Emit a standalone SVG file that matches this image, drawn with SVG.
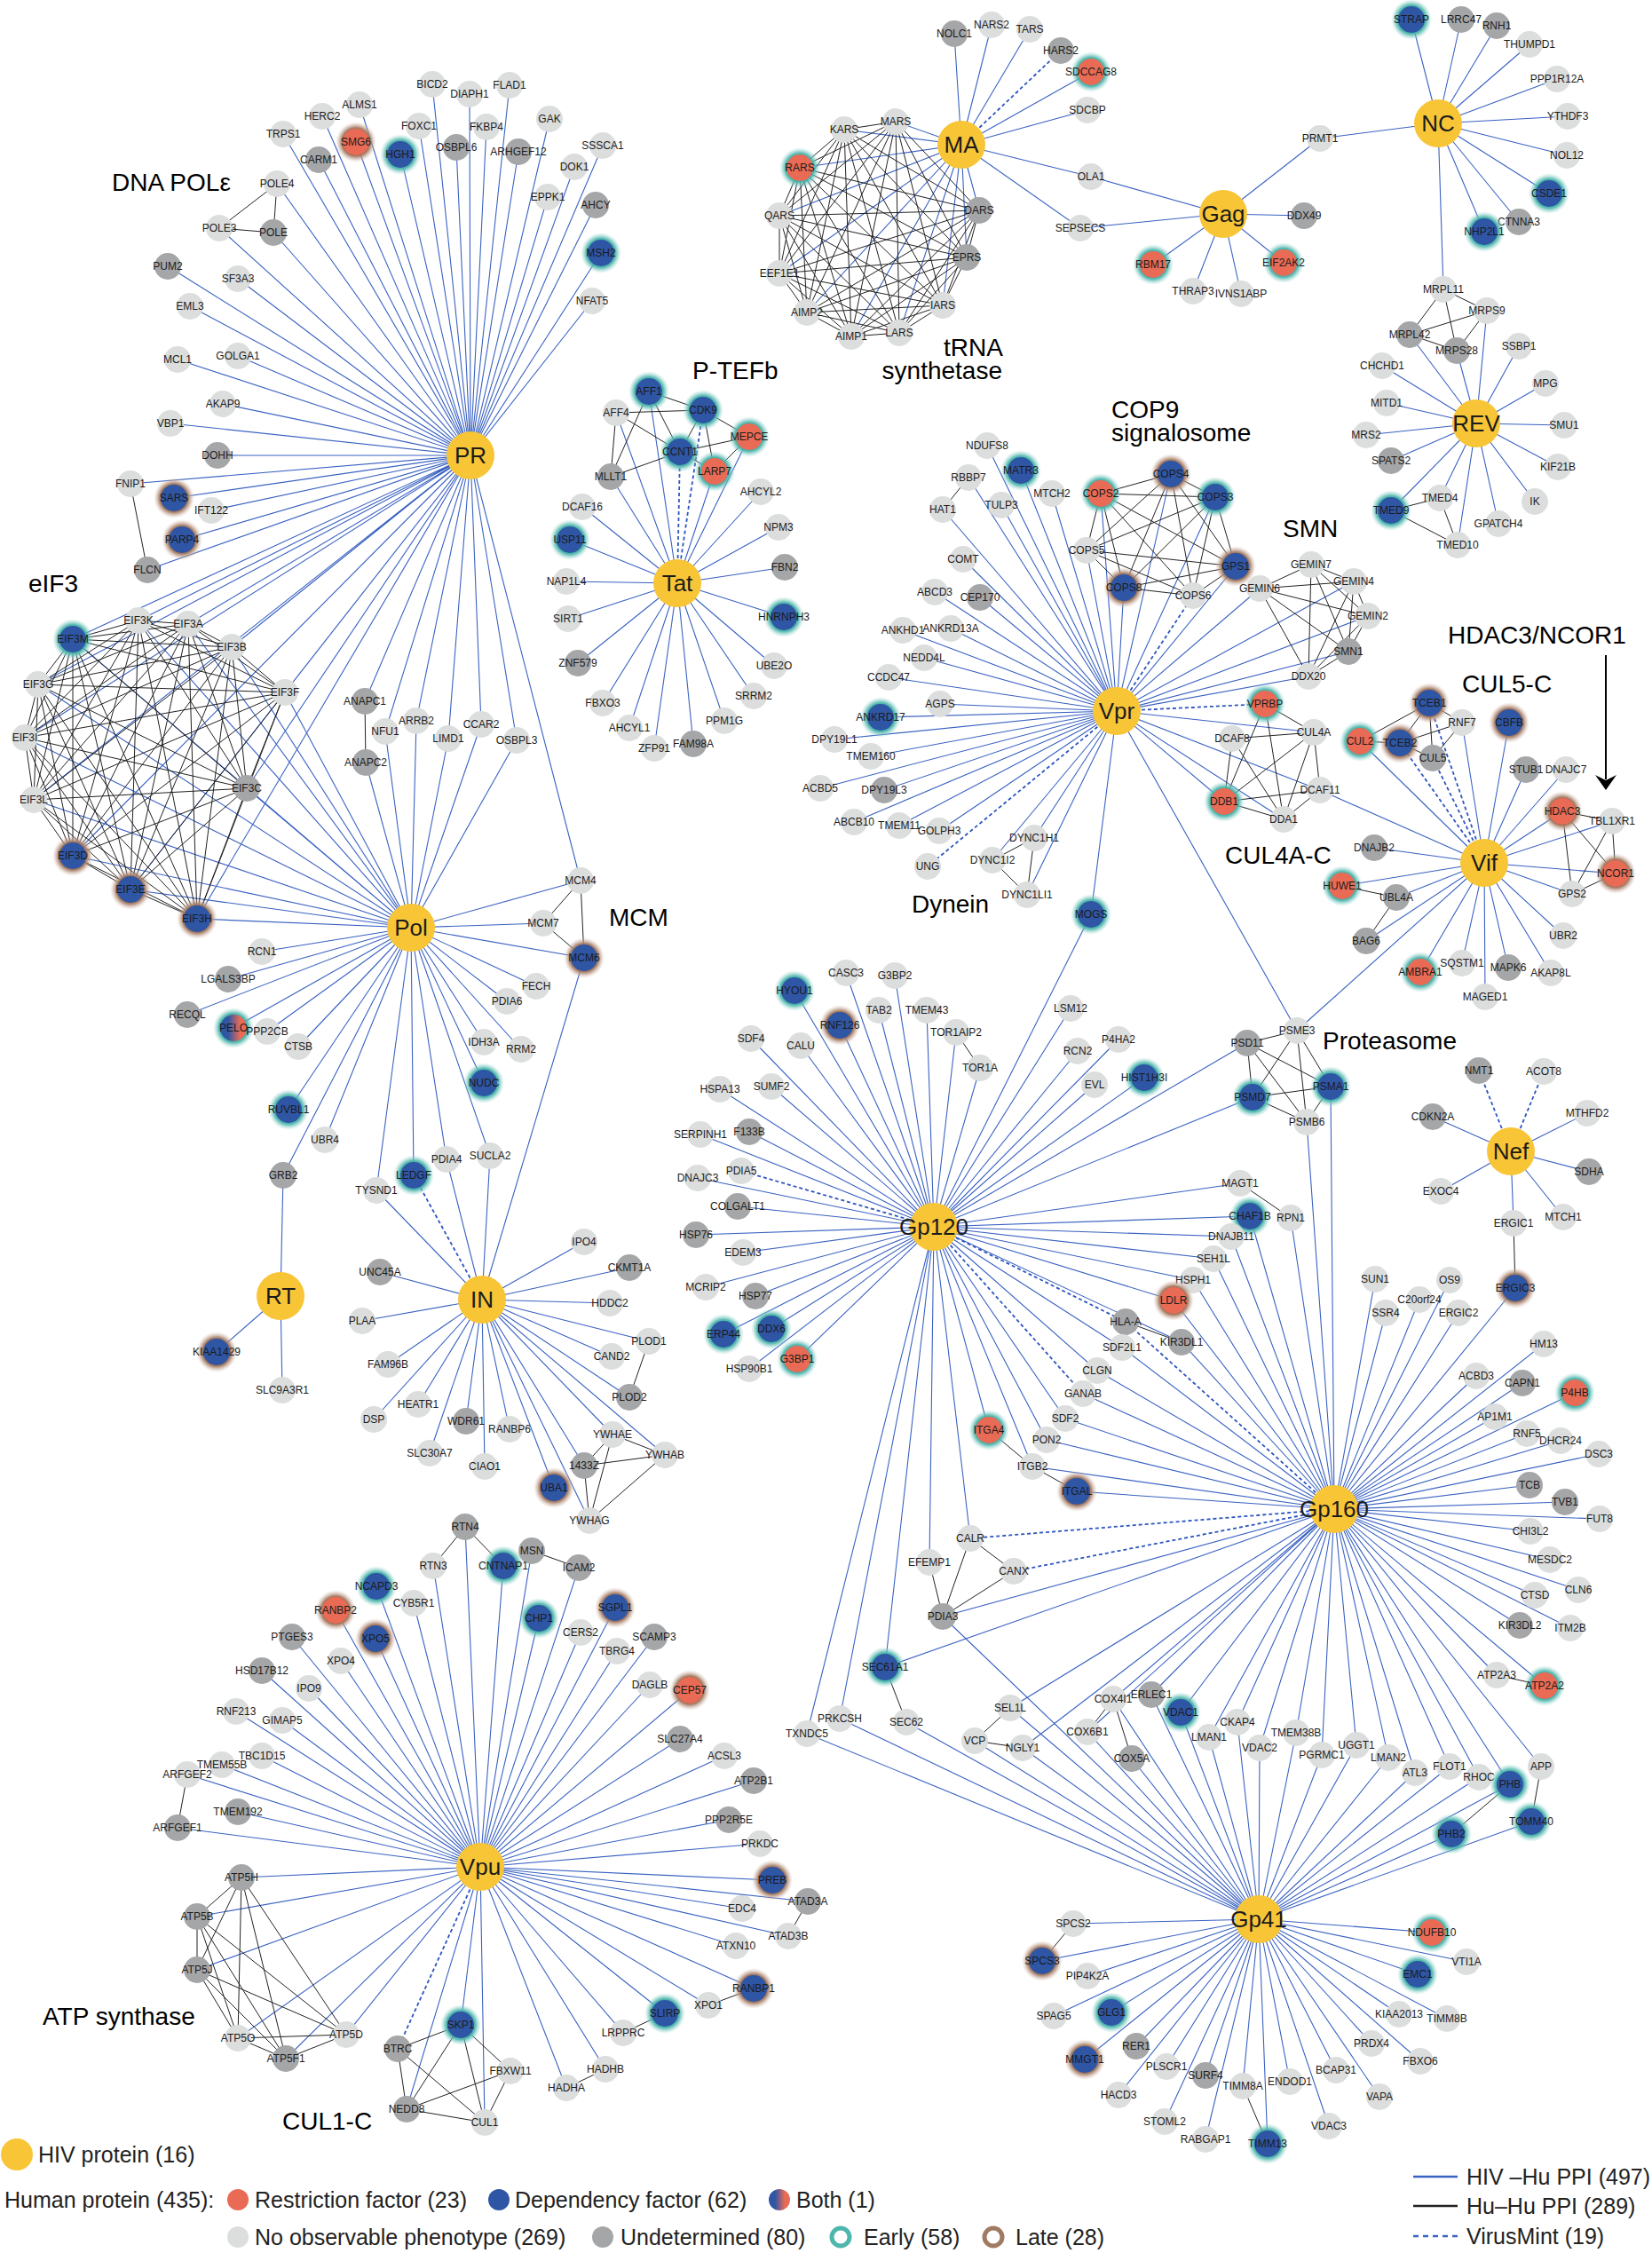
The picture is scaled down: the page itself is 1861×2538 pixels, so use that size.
<svg xmlns="http://www.w3.org/2000/svg" width="1861" height="2538" viewBox="0 0 1861 2538">
<defs>
<radialGradient id="ge"><stop offset="0.6" stop-color="#2ea89f"/><stop offset="0.72" stop-color="#4db5ac" stop-opacity="0.9"/><stop offset="1" stop-color="#a8dcd7" stop-opacity="0"/></radialGradient>
<radialGradient id="gl"><stop offset="0.6" stop-color="#8a5a3a"/><stop offset="0.72" stop-color="#a8806a" stop-opacity="0.9"/><stop offset="1" stop-color="#dcc8bc" stop-opacity="0"/></radialGradient>
<linearGradient id="gb"><stop offset="0.3" stop-color="#2f56a5"/><stop offset="0.75" stop-color="#ea6b55"/></linearGradient>
</defs>
<style>
text{font-family:"Liberation Sans",Arial,sans-serif;font-size:12px;text-anchor:middle;fill:#1b1b1b}
.n{fill:#dcdddd}.u{fill:#a5a6a8}.r{fill:#ea6b55}.d{fill:#2f56a5}.b{fill:url(#gb)}.h{fill:#f8c537}
.E{fill:url(#ge)}.L{fill:url(#gl)}
text.hv{font-size:26px}
text.grp{font-size:28px;text-anchor:start;fill:#000}
text.lg{font-size:25px;text-anchor:start;fill:#222}
.eb{stroke:#3a62c2;stroke-width:1.1;fill:none}
.ek{stroke:#222;stroke-width:1;fill:none}
.ev{stroke:#2d55c0;stroke-width:1.8;stroke-dasharray:4 3;fill:none}
</style>
<rect width="1861" height="2538" fill="#fff"/>
<g id="connectors">
<path id="e-PR" class="eb" d="M530 513L487 95M530 513L529 106M530 513L574 96M530 513L405 118M530 513L363 131M530 513L619 134M530 513L319 151M530 513L401 160M530 513L472 142M530 513L548 143M530 513L451 174M530 513L514 166M530 513L584 171M530 513L359 180M530 513L312 207M530 513L617 222M530 513L308 262M530 513L247 257M530 513L189 300M530 513L268 314M530 513L214 345M530 513L200 405M530 513L268 401M530 513L251 455M530 513L192 477M530 513L245 513M530 513L147 545M530 513L196 561M530 513L238 575M530 513L205 608M530 513L166 642M530 513L679 164M530 513L647 188M530 513L671 231M530 513L677 285M530 513L667 339M530 513L156 699M530 513L212 703M530 513L82 720M530 513L261 729M530 513L43 771M530 513L321 780M530 513L28 831M530 513L278 888M530 513L38 901M530 513L82 964M530 513L147 1002M530 513L222 1035M530 513L411 790M530 513L434 824M530 513L469 812M530 513L505 832M530 513L542 816M530 513L582 834M530 513L654 992"/>
<path id="e-Pol" class="eb" d="M463 1045L156 699M463 1045L212 703M463 1045L82 720M463 1045L261 729M463 1045L43 771M463 1045L321 780M463 1045L28 831M463 1045L278 888M463 1045L38 901M463 1045L82 964M463 1045L147 1002M463 1045L222 1035M463 1045L412 859M463 1045L434 824M463 1045L469 812M463 1045L505 832M463 1045L542 816M463 1045L582 834M463 1045L654 992M463 1045L612 1040M463 1045L658 1079M463 1045L295 1072M463 1045L257 1103M463 1045L211 1143M463 1045L263 1158M463 1045L301 1162M463 1045L336 1179M463 1045L604 1111M463 1045L571 1128M463 1045L545 1174M463 1045L587 1182M463 1045L545 1220M463 1045L325 1250M463 1045L366 1284M463 1045L319 1324M463 1045L466 1324M463 1045L503 1306M463 1045L552 1302M463 1045L424 1341"/>
<path id="e-IN" class="eb" d="M543 1464L424 1341M543 1464L503 1306M543 1464L552 1302M543 1464L658 1079M543 1464L428 1433M543 1464L408 1488M543 1464L437 1537M543 1464L421 1599M543 1464L471 1582M543 1464L484 1637M543 1464L525 1601M543 1464L546 1652M543 1464L574 1610M543 1464L624 1676M543 1464L658 1399M543 1464L709 1428M543 1464L687 1468M543 1464L731 1511M543 1464L689 1528M543 1464L709 1574M543 1464L690 1616M543 1464L749 1639M543 1464L658 1651M543 1464L664 1713"/>
<path id="e-RT" class="eb" d="M316 1460L319 1324M316 1460L244 1523M316 1460L318 1566"/>
<path id="e-Tat" class="eb" d="M763 657L731 441M763 657L694 465M763 657L844 492M763 657L805 531M763 657L688 537M763 657L857 554M763 657L656 571M763 657L877 594M763 657L642 608M763 657L884 639M763 657L638 655M763 657L640 697M763 657L883 695M763 657L651 747M763 657L872 750M763 657L679 792M763 657L849 784M763 657L709 820M763 657L816 812M763 657L737 843M763 657L781 838"/>
<path id="e-MA" class="eb" d="M1083 163L1075 38M1083 163L1117 28M1083 163L1160 33M1083 163L1229 81M1083 163L1225 124M1083 163L1229 199M1083 163L1217 257M1083 163L1009 137M1083 163L951 146M1083 163L901 189M1083 163L878 243M1083 163L1103 237M1083 163L1089 290M1083 163L878 308M1083 163L1062 344M1083 163L909 352M1083 163L959 379M1083 163L1013 375"/>
<path id="e-Gag" class="eb" d="M1378 241L1487 156M1378 241L1229 199M1378 241L1217 257M1378 241L1469 243M1378 241L1299 298M1378 241L1344 328M1378 241L1398 331M1378 241L1446 296"/>
<path id="e-NC" class="eb" d="M1620 139L1590 22M1620 139L1646 22M1620 139L1686 29M1620 139L1723 50M1620 139L1754 89M1620 139L1766 131M1620 139L1765 175M1620 139L1745 218M1620 139L1711 250M1620 139L1672 261M1620 139L1487 156M1620 139L1626 326"/>
<path id="e-REV" class="eb" d="M1663 477L1588 377M1663 477L1641 395M1663 477L1675 350M1663 477L1711 390M1663 477L1557 412M1663 477L1741 432M1663 477L1562 454M1663 477L1762 479M1663 477L1539 490M1663 477L1567 519M1663 477L1755 526M1663 477L1729 565M1663 477L1567 575M1663 477L1622 561M1663 477L1688 590M1663 477L1642 614"/>
<path id="e-Vpr" class="eb" d="M1258 801L1112 502M1258 801L1091 538M1258 801L1150 530M1258 801L1062 574M1258 801L1128 569M1258 801L1185 556M1258 801L1240 556M1258 801L1319 534M1258 801L1369 560M1258 801L1224 620M1258 801L1266 662M1258 801L1392 638M1258 801L1419 663M1258 801L1525 655M1258 801L1541 694M1258 801L1519 734M1258 801L1474 762M1258 801L1085 630M1258 801L1053 667M1258 801L1104 673M1258 801L1017 710M1258 801L1071 708M1258 801L1041 741M1258 801L1001 763M1258 801L1059 793M1258 801L992 808M1258 801L940 833M1258 801L981 852M1258 801L924 888M1258 801L996 890M1258 801L962 926M1258 801L1013 930M1258 801L1058 936M1258 801L1165 944M1258 801L1118 969M1258 801L1157 1008M1258 801L1229 1030M1258 801L1480 825M1258 801L1379 903M1258 801L1446 923M1258 801L1487 890M1258 801L1461 1161"/>
<path id="e-Vif" class="eb" d="M1672 972L1532 835M1672 972L1647 814M1672 972L1700 814M1672 972L1719 867M1672 972L1764 867M1672 972L1760 914M1672 972L1816 925M1672 972L1820 984M1672 972L1771 1007M1672 972L1761 1054M1672 972L1747 1096M1672 972L1699 1090M1672 972L1673 1123M1672 972L1647 1085M1672 972L1600 1095M1672 972L1539 1060M1672 972L1573 1011M1672 972L1512 998M1672 972L1548 955M1672 972L1487 890M1672 972L1461 1161"/>
<path id="e-Nef" class="eb" d="M1702 1297L1788 1254M1702 1297L1790 1320M1702 1297L1761 1371M1702 1297L1705 1378M1702 1297L1623 1342M1702 1297L1614 1258"/>
<path id="e-Gp120" class="eb" d="M1052 1382L895 1116M1052 1382L953 1096M1052 1382L1008 1099M1052 1382L990 1138M1052 1382L1044 1138M1052 1382L946 1155M1052 1382L1077 1163M1052 1382L1206 1136M1052 1382L846 1170M1052 1382L902 1178M1052 1382L1214 1184M1052 1382L1104 1203M1052 1382L811 1227M1052 1382L869 1224M1052 1382L1233 1222M1052 1382L1260 1171M1052 1382L1289 1214M1052 1382L789 1278M1052 1382L844 1275M1052 1382L786 1327M1052 1382L831 1359M1052 1382L784 1391M1052 1382L837 1411M1052 1382L795 1450M1052 1382L851 1460M1052 1382L815 1503M1052 1382L869 1497M1052 1382L898 1531M1052 1382L844 1542M1052 1382L1229 1030M1052 1382L1405 1175M1052 1382L1411 1236M1052 1382L1397 1333M1052 1382L1408 1370M1052 1382L1387 1393M1052 1382L1367 1418M1052 1382L1344 1442M1052 1382L1322 1465M1052 1382L1331 1512M1052 1382L1264 1518M1052 1382L1236 1544M1052 1382L1200 1598M1052 1382L1179 1622M1052 1382L1163 1652M1052 1382L1114 1611M1052 1382L1093 1733M1052 1382L1047 1760M1052 1382L997 1878M1052 1382L909 1953M1052 1382L946 1936"/>
<path id="e-Gp160" class="eb" d="M1503 1700L1472 1264M1503 1700L1499 1224M1503 1700L1454 1372M1503 1700L1408 1370M1503 1700L1387 1393M1503 1700L1367 1418M1503 1700L1344 1442M1503 1700L1322 1465M1503 1700L1331 1512M1503 1700L1264 1518M1503 1700L1236 1544M1503 1700L1220 1570M1503 1700L1200 1598M1503 1700L1179 1622M1503 1700L1163 1652M1503 1700L1213 1680M1503 1700L1062 1821M1503 1700L997 1878M1503 1700L1138 1924M1503 1700L1152 1969M1503 1700L1549 1441M1503 1700L1561 1479M1503 1700L1599 1464M1503 1700L1633 1442M1503 1700L1643 1479M1503 1700L1707 1451M1503 1700L1739 1514M1503 1700L1663 1550M1503 1700L1715 1558M1503 1700L1684 1596M1503 1700L1774 1569M1503 1700L1720 1615M1503 1700L1758 1623M1503 1700L1801 1638M1503 1700L1723 1673M1503 1700L1763 1692M1503 1700L1802 1711M1503 1700L1724 1725M1503 1700L1746 1757M1503 1700L1778 1791M1503 1700L1729 1797M1503 1700L1769 1834M1503 1700L1712 1831M1503 1700L1686 1887M1503 1700L1740 1899M1503 1700L1736 1990M1503 1700L1701 2010M1503 1700L1666 2002M1503 1700L1633 1990M1503 1700L1594 1997M1503 1700L1564 1980M1503 1700L1528 1966M1503 1700L1489 1977M1503 1700L1460 1952M1503 1700L1419 1969M1503 1700L1394 1940M1503 1700L1362 1957M1503 1700L1330 1929M1503 1700L1297 1909M1503 1700L1254 1914M1503 1700L1225 1951"/>
<path id="e-Gp41" class="eb" d="M1418 2162L909 1953M1418 2162L946 1936M1418 2162L1021 1940M1418 2162L1098 1961M1418 2162L1152 1969M1418 2162L1138 1924M1418 2162L1225 1951M1418 2162L1254 1914M1418 2162L1275 1981M1418 2162L1297 1909M1418 2162L1330 1929M1418 2162L1362 1957M1418 2162L1394 1940M1418 2162L1419 1969M1418 2162L1460 1952M1418 2162L1489 1977M1418 2162L1528 1966M1418 2162L1564 1980M1418 2162L1594 1997M1418 2162L1633 1990M1418 2162L1666 2002M1418 2162L1701 2010M1418 2162L1635 2066M1418 2162L1725 2052M1418 2162L1062 1821M1418 2162L1209 2167M1418 2162L1174 2209M1418 2162L1225 2226M1418 2162L1187 2271M1418 2162L1252 2267M1418 2162L1222 2320M1418 2162L1280 2305M1418 2162L1260 2360M1418 2162L1314 2328M1418 2162L1358 2338M1418 2162L1312 2390M1418 2162L1358 2410M1418 2162L1400 2350M1418 2162L1428 2415M1418 2162L1453 2345M1418 2162L1505 2332M1418 2162L1497 2395M1418 2162L1554 2362M1418 2162L1545 2302M1418 2162L1600 2322M1418 2162L1576 2269M1418 2162L1630 2274M1418 2162L1597 2224M1418 2162L1652 2210M1418 2162L1613 2177"/>
<path id="e-Vpu" class="eb" d="M541 2103L524 1720M541 2103L599 1747M541 2103L488 1764M541 2103L567 1764M541 2103L652 1766M541 2103L424 1787M541 2103L466 1806M541 2103L693 1811M541 2103L378 1814M541 2103L607 1823M541 2103L654 1839M541 2103L737 1844M541 2103L329 1844M541 2103L423 1846M541 2103L695 1860M541 2103L384 1871M541 2103L295 1882M541 2103L732 1898M541 2103L348 1902M541 2103L777 1904M541 2103L266 1928M541 2103L318 1938M541 2103L766 1959M541 2103L816 1978M541 2103L295 1978M541 2103L250 1988M541 2103L211 1999M541 2103L849 2006M541 2103L268 2041M541 2103L821 2050M541 2103L200 2059M541 2103L856 2077M541 2103L272 2115M541 2103L870 2118M541 2103L910 2142M541 2103L836 2150M541 2103L222 2159M541 2103L888 2181M541 2103L829 2192M541 2103L222 2219M541 2103L849 2240M541 2103L798 2259M541 2103L749 2268M541 2103L519 2281M541 2103L702 2290M541 2103L390 2292M541 2103L268 2296M541 2103L322 2319M541 2103L682 2331M541 2103L638 2352M541 2103L458 2376M541 2103L546 2391"/>
<path id="e-virusmint" class="ev" d="M1083 163L1195 57M763 657L792 462M763 657L766 509M1258 801L1045 976M1258 801L1425 793M1258 801L1344 671M1672 972L1610 792M1672 972L1577 837M1672 972L1614 854M543 1464L466 1324M1052 1382L835 1319M1052 1382L1268 1489M1052 1382L1220 1570M1503 1700L1268 1489M1503 1700L1093 1733M1503 1700L1142 1770M1702 1297L1666 1206M1702 1297L1739 1207M541 2103L448 2308"/>
<path id="e-huhu" class="ek" d="M312 207L247 257M312 207L308 262M247 257L308 262M147 545L166 642M411 790L412 859M654 992L612 1040M654 992L658 1079M612 1040L658 1079
M156 699L212 703M156 699L82 720M156 699L261 729M156 699L43 771M156 699L321 780M156 699L28 831M156 699L278 888M156 699L38 901M156 699L82 964M156 699L147 1002M156 699L222 1035
M212 703L82 720M212 703L261 729M212 703L43 771M212 703L321 780M212 703L28 831M212 703L278 888M212 703L38 901M212 703L82 964M212 703L147 1002M212 703L222 1035
M82 720L261 729M82 720L43 771M82 720L321 780M82 720L28 831M82 720L278 888M82 720L38 901M82 720L82 964M82 720L147 1002M82 720L222 1035
M261 729L43 771M261 729L321 780M261 729L28 831M261 729L278 888M261 729L38 901M261 729L82 964M261 729L147 1002M261 729L222 1035
M43 771L321 780M43 771L28 831M43 771L278 888M43 771L38 901M43 771L82 964M43 771L147 1002M43 771L222 1035
M321 780L28 831M321 780L278 888M321 780L38 901M321 780L82 964M321 780L147 1002M321 780L222 1035
M28 831L278 888M28 831L38 901M28 831L82 964M28 831L147 1002M28 831L222 1035
M278 888L38 901M278 888L82 964M278 888L147 1002M278 888L222 1035
M38 901L82 964M38 901L147 1002M38 901L222 1035M82 964L147 1002M82 964L222 1035M147 1002L222 1035
M1009 137L951 146M1009 137L901 189M1009 137L878 243M1009 137L878 308M1009 137L909 352M1009 137L959 379M1009 137L1013 375M1009 137L1062 344M1009 137L1089 290M1009 137L1103 237
M951 146L901 189M951 146L878 243M951 146L878 308M951 146L909 352M951 146L959 379M951 146L1013 375M951 146L1062 344M951 146L1089 290M951 146L1103 237
M901 189L878 243M901 189L878 308M901 189L909 352M901 189L959 379M901 189L1013 375M901 189L1062 344M901 189L1089 290M901 189L1103 237
M878 243L878 308M878 243L909 352M878 243L959 379M878 243L1013 375M878 243L1062 344M878 243L1089 290M878 243L1103 237
M878 308L909 352M878 308L959 379M878 308L1013 375M878 308L1062 344M878 308L1089 290M878 308L1103 237
M909 352L959 379M909 352L1013 375M909 352L1062 344M909 352L1089 290M909 352L1103 237
M959 379L1013 375M959 379L1062 344M959 379L1089 290M959 379L1103 237
M1013 375L1062 344M1013 375L1089 290M1013 375L1103 237M1062 344L1089 290M1062 344L1103 237M1089 290L1103 237
M731 441L792 462M731 441L766 509M731 441L688 537M694 465L792 462M694 465L766 509M694 465L688 537M792 462L766 509M792 462L844 492M792 462L805 531M766 509L844 492M766 509L688 537M766 509L805 531M844 492L805 531
M1626 326L1675 350M1626 326L1588 377M1626 326L1641 395M1588 377L1675 350M1588 377L1641 395M1641 395L1675 350M1567 575L1622 561M1567 575L1642 614M1622 561L1642 614
M1091 538L1062 574
M1240 556L1319 534M1240 556L1369 560M1240 556L1224 620M1240 556L1392 638M1240 556L1266 662M1240 556L1344 671M1319 534L1369 560M1319 534L1224 620M1319 534L1392 638M1319 534L1266 662M1319 534L1344 671M1369 560L1224 620M1369 560L1392 638M1369 560L1266 662M1369 560L1344 671M1224 620L1392 638M1224 620L1266 662M1224 620L1344 671M1392 638L1266 662M1392 638L1344 671M1266 662L1344 671
M1477 636L1419 663M1477 636L1525 655M1477 636L1541 694M1477 636L1519 734M1477 636L1474 762M1419 663L1525 655M1419 663L1541 694M1419 663L1519 734M1419 663L1474 762M1525 655L1541 694M1525 655L1519 734M1525 655L1474 762M1541 694L1519 734M1541 694L1474 762M1519 734L1474 762
M1425 793L1480 825M1425 793L1379 903M1425 793L1446 923M1388 832L1480 825M1388 832L1379 903M1388 832L1446 923M1480 825L1379 903M1480 825L1487 890M1480 825L1446 923M1379 903L1487 890M1379 903L1446 923M1487 890L1446 923
M1165 944L1118 969M1165 944L1157 1008M1118 969L1157 1008
M1610 792L1577 837M1610 792L1532 835M1610 792L1647 814M1610 792L1614 854M1577 837L1532 835M1577 837L1647 814M1577 837L1614 854M1614 854L1647 814
M1760 914L1816 925M1760 914L1820 984M1760 914L1771 1007M1816 925L1820 984M1816 925L1771 1007M1820 984L1771 1007
M1512 998L1573 1011M1573 1011L1539 1060
M1461 1161L1405 1175M1461 1161L1411 1236M1461 1161L1499 1224M1461 1161L1472 1264M1405 1175L1411 1236M1405 1175L1499 1224M1405 1175L1472 1264M1411 1236L1499 1224M1411 1236L1472 1264M1499 1224L1472 1264
M1077 1163L1104 1203M731 1511L709 1574
M690 1616L749 1639M690 1616L658 1651M690 1616L664 1713M749 1639L658 1651M749 1639L664 1713M658 1651L664 1713
M1397 1333L1454 1372M1268 1489L1331 1512M1114 1611L1163 1652M1163 1652L1213 1680
M1093 1733L1142 1770M1093 1733L1062 1821M1142 1770L1062 1821M1047 1760L1062 1821M997 1878L1021 1940M1705 1378L1707 1451M1686 1887L1740 1899
M1138 1924L1098 1961M1098 1961L1152 1969M1254 1914L1275 1981M1254 1914L1225 1951M1701 2010L1635 2066M1736 1990L1725 2052M1209 2167L1174 2209M1400 2350L1428 2415
M524 1720L488 1764M524 1720L567 1764M599 1747L652 1766M211 1999L200 2059
M272 2115L222 2159M272 2115L222 2219M272 2115L268 2296M272 2115L322 2319M272 2115L390 2292M222 2159L222 2219M222 2159L268 2296M222 2159L322 2319M222 2159L390 2292M222 2219L268 2296M222 2219L322 2319M222 2219L390 2292M268 2296L322 2319M268 2296L390 2292M322 2319L390 2292
M519 2281L448 2308M519 2281L575 2333M519 2281L458 2376M519 2281L546 2391M448 2308L458 2376M448 2308L546 2391M575 2333L458 2376M575 2333L546 2391M458 2376L546 2391
M910 2142L888 2181M849 2240L798 2259M749 2268L702 2290M682 2331L638 2352"/>
</g>
<g id="labels">
<text class="grp" x="126" y="215">DNA POLε</text>
<text class="grp" x="32" y="667">eIF3</text>
<text class="grp" x="780" y="427">P-TEFb</text>
<text class="grp" style="text-anchor:end"><tspan x="1130" y="401">tRNA</tspan><tspan x="1129" y="427">synthetase</tspan></text>
<text class="grp"><tspan x="1252" y="471">COP9</tspan><tspan x="1252" y="497">signalosome</tspan></text>
<text class="grp" x="1445" y="605">SMN</text>
<text class="grp" x="1631" y="725">HDAC3/NCOR1</text>
<text class="grp" x="1647" y="780">CUL5-C</text>
<text class="grp" x="1380" y="973">CUL4A-C</text>
<text class="grp" x="686" y="1043">MCM</text>
<text class="grp" x="1027" y="1028">Dynein</text>
<text class="grp" x="1490" y="1182">Proteasome</text>
<text class="grp" x="48" y="2281">ATP synthase</text>
<text class="grp" x="318" y="2399">CUL1-C</text>
<path d="M1809 738V878" stroke="#000" stroke-width="2" fill="none"/>
<polygon points="1797,873 1809,890 1821,873 1809,879" fill="#000"/>
</g>
<g id="nodes">
<g id="n-BICD2"><circle class="n" cx="487" cy="95" r="15"/><text x="487" y="99">BICD2</text></g>
<g id="n-DIAPH1"><circle class="n" cx="529" cy="106" r="15"/><text x="529" y="110">DIAPH1</text></g>
<g id="n-FLAD1"><circle class="n" cx="574" cy="96" r="15"/><text x="574" y="100">FLAD1</text></g>
<g id="n-ALMS1"><circle class="n" cx="405" cy="118" r="15"/><text x="405" y="122">ALMS1</text></g>
<g id="n-HERC2"><circle class="n" cx="363" cy="131" r="15"/><text x="363" y="135">HERC2</text></g>
<g id="n-GAK"><circle class="n" cx="619" cy="134" r="15"/><text x="619" y="138">GAK</text></g>
<g id="n-TRPS1"><circle class="n" cx="319" cy="151" r="15"/><text x="319" y="155">TRPS1</text></g>
<g id="n-SMG6"><circle class="L" cx="401" cy="160" r="23"/><circle class="r" cx="401" cy="160" r="15"/><text x="401" y="164">SMG6</text></g>
<g id="n-FOXC1"><circle class="n" cx="472" cy="142" r="15"/><text x="472" y="146">FOXC1</text></g>
<g id="n-FKBP4"><circle class="n" cx="548" cy="143" r="15"/><text x="548" y="147">FKBP4</text></g>
<g id="n-HGH1"><circle class="E" cx="451" cy="174" r="23"/><circle class="d" cx="451" cy="174" r="15"/><text x="451" y="178">HGH1</text></g>
<g id="n-OSBPL6"><circle class="u" cx="514" cy="166" r="15"/><text x="514" y="170">OSBPL6</text></g>
<g id="n-ARHGEF12"><circle class="u" cx="584" cy="171" r="15"/><text x="584" y="175">ARHGEF12</text></g>
<g id="n-CARM1"><circle class="u" cx="359" cy="180" r="15"/><text x="359" y="184">CARM1</text></g>
<g id="n-POLE4"><circle class="n" cx="312" cy="207" r="15"/><text x="312" y="211">POLE4</text></g>
<g id="n-EPPK1"><circle class="n" cx="617" cy="222" r="15"/><text x="617" y="226">EPPK1</text></g>
<g id="n-POLE3"><circle class="n" cx="247" cy="257" r="15"/><text x="247" y="261">POLE3</text></g>
<g id="n-POLE"><circle class="u" cx="308" cy="262" r="15"/><text x="308" y="266">POLE</text></g>
<g id="n-PUM2"><circle class="u" cx="189" cy="300" r="15"/><text x="189" y="304">PUM2</text></g>
<g id="n-SF3A3"><circle class="n" cx="268" cy="314" r="15"/><text x="268" y="318">SF3A3</text></g>
<g id="n-EML3"><circle class="n" cx="214" cy="345" r="15"/><text x="214" y="349">EML3</text></g>
<g id="n-MCL1"><circle class="n" cx="200" cy="405" r="15"/><text x="200" y="409">MCL1</text></g>
<g id="n-GOLGA1"><circle class="n" cx="268" cy="401" r="15"/><text x="268" y="405">GOLGA1</text></g>
<g id="n-AKAP9"><circle class="n" cx="251" cy="455" r="15"/><text x="251" y="459">AKAP9</text></g>
<g id="n-VBP1"><circle class="n" cx="192" cy="477" r="15"/><text x="192" y="481">VBP1</text></g>
<g id="n-DOHH"><circle class="u" cx="245" cy="513" r="15"/><text x="245" y="517">DOHH</text></g>
<g id="n-FNIP1"><circle class="n" cx="147" cy="545" r="15"/><text x="147" y="549">FNIP1</text></g>
<g id="n-SARS"><circle class="L" cx="196" cy="561" r="23"/><circle class="d" cx="196" cy="561" r="15"/><text x="196" y="565">SARS</text></g>
<g id="n-IFT122"><circle class="n" cx="238" cy="575" r="15"/><text x="238" y="579">IFT122</text></g>
<g id="n-PARP4"><circle class="L" cx="205" cy="608" r="23"/><circle class="d" cx="205" cy="608" r="15"/><text x="205" y="612">PARP4</text></g>
<g id="n-FLCN"><circle class="u" cx="166" cy="642" r="15"/><text x="166" y="646">FLCN</text></g>
<g id="n-SSSCA1"><circle class="n" cx="679" cy="164" r="15"/><text x="679" y="168">SSSCA1</text></g>
<g id="n-DOK1"><circle class="n" cx="647" cy="188" r="15"/><text x="647" y="192">DOK1</text></g>
<g id="n-AHCY"><circle class="u" cx="671" cy="231" r="15"/><text x="671" y="235">AHCY</text></g>
<g id="n-MSH2"><circle class="E" cx="677" cy="285" r="23"/><circle class="d" cx="677" cy="285" r="15"/><text x="677" y="289">MSH2</text></g>
<g id="n-NFAT5"><circle class="n" cx="667" cy="339" r="15"/><text x="667" y="343">NFAT5</text></g>
<g id="n-EIF3K"><circle class="n" cx="156" cy="699" r="15"/><text x="156" y="703">EIF3K</text></g>
<g id="n-EIF3A"><circle class="n" cx="212" cy="703" r="15"/><text x="212" y="707">EIF3A</text></g>
<g id="n-EIF3M"><circle class="E" cx="82" cy="720" r="23"/><circle class="d" cx="82" cy="720" r="15"/><text x="82" y="724">EIF3M</text></g>
<g id="n-EIF3B"><circle class="n" cx="261" cy="729" r="15"/><text x="261" y="733">EIF3B</text></g>
<g id="n-EIF3G"><circle class="n" cx="43" cy="771" r="15"/><text x="43" y="775">EIF3G</text></g>
<g id="n-EIF3F"><circle class="n" cx="321" cy="780" r="15"/><text x="321" y="784">EIF3F</text></g>
<g id="n-EIF3I"><circle class="n" cx="28" cy="831" r="15"/><text x="28" y="835">EIF3I</text></g>
<g id="n-EIF3C"><circle class="u" cx="278" cy="888" r="15"/><text x="278" y="892">EIF3C</text></g>
<g id="n-EIF3L"><circle class="n" cx="38" cy="901" r="15"/><text x="38" y="905">EIF3L</text></g>
<g id="n-EIF3D"><circle class="L" cx="82" cy="964" r="23"/><circle class="d" cx="82" cy="964" r="15"/><text x="82" y="968">EIF3D</text></g>
<g id="n-EIF3E"><circle class="L" cx="147" cy="1002" r="23"/><circle class="d" cx="147" cy="1002" r="15"/><text x="147" y="1006">EIF3E</text></g>
<g id="n-EIF3H"><circle class="L" cx="222" cy="1035" r="23"/><circle class="d" cx="222" cy="1035" r="15"/><text x="222" y="1039">EIF3H</text></g>
<g id="n-ANAPC1"><circle class="u" cx="411" cy="790" r="15"/><text x="411" y="794">ANAPC1</text></g>
<g id="n-NFU1"><circle class="n" cx="434" cy="824" r="15"/><text x="434" y="828">NFU1</text></g>
<g id="n-ARRB2"><circle class="n" cx="469" cy="812" r="15"/><text x="469" y="816">ARRB2</text></g>
<g id="n-CCAR2"><circle class="n" cx="542" cy="816" r="15"/><text x="542" y="820">CCAR2</text></g>
<g id="n-LIMD1"><circle class="n" cx="505" cy="832" r="15"/><text x="505" y="836">LIMD1</text></g>
<g id="n-OSBPL3"><circle class="n" cx="582" cy="834" r="15"/><text x="582" y="838">OSBPL3</text></g>
<g id="n-ANAPC2"><circle class="u" cx="412" cy="859" r="15"/><text x="412" y="863">ANAPC2</text></g>
<g id="n-MCM4"><circle class="n" cx="654" cy="992" r="15"/><text x="654" y="996">MCM4</text></g>
<g id="n-MCM7"><circle class="n" cx="612" cy="1040" r="15"/><text x="612" y="1044">MCM7</text></g>
<g id="n-MCM6"><circle class="L" cx="658" cy="1079" r="23"/><circle class="d" cx="658" cy="1079" r="15"/><text x="658" y="1083">MCM6</text></g>
<g id="n-RCN1"><circle class="n" cx="295" cy="1072" r="15"/><text x="295" y="1076">RCN1</text></g>
<g id="n-LGALS3BP"><circle class="u" cx="257" cy="1103" r="15"/><text x="257" y="1107">LGALS3BP</text></g>
<g id="n-FECH"><circle class="n" cx="604" cy="1111" r="15"/><text x="604" y="1115">FECH</text></g>
<g id="n-PDIA6"><circle class="n" cx="571" cy="1128" r="15"/><text x="571" y="1132">PDIA6</text></g>
<g id="n-RECQL"><circle class="u" cx="211" cy="1143" r="15"/><text x="211" y="1147">RECQL</text></g>
<g id="n-PELO"><circle class="E" cx="263" cy="1158" r="23"/><circle class="b" cx="263" cy="1158" r="15"/><text x="263" y="1162">PELO</text></g>
<g id="n-PPP2CB"><circle class="n" cx="301" cy="1162" r="15"/><text x="301" y="1166">PPP2CB</text></g>
<g id="n-CTSB"><circle class="n" cx="336" cy="1179" r="15"/><text x="336" y="1183">CTSB</text></g>
<g id="n-IDH3A"><circle class="n" cx="545" cy="1174" r="15"/><text x="545" y="1178">IDH3A</text></g>
<g id="n-RRM2"><circle class="n" cx="587" cy="1182" r="15"/><text x="587" y="1186">RRM2</text></g>
<g id="n-NUDC"><circle class="E" cx="545" cy="1220" r="23"/><circle class="d" cx="545" cy="1220" r="15"/><text x="545" y="1224">NUDC</text></g>
<g id="n-RUVBL1"><circle class="E" cx="325" cy="1250" r="23"/><circle class="d" cx="325" cy="1250" r="15"/><text x="325" y="1254">RUVBL1</text></g>
<g id="n-UBR4"><circle class="n" cx="366" cy="1284" r="15"/><text x="366" y="1288">UBR4</text></g>
<g id="n-GRB2"><circle class="u" cx="319" cy="1324" r="15"/><text x="319" y="1328">GRB2</text></g>
<g id="n-LEDGF"><circle class="E" cx="466" cy="1324" r="23"/><circle class="d" cx="466" cy="1324" r="15"/><text x="466" y="1328">LEDGF</text></g>
<g id="n-PDIA4"><circle class="n" cx="503" cy="1306" r="15"/><text x="503" y="1310">PDIA4</text></g>
<g id="n-SUCLA2"><circle class="n" cx="552" cy="1302" r="15"/><text x="552" y="1306">SUCLA2</text></g>
<g id="n-TYSND1"><circle class="n" cx="424" cy="1341" r="15"/><text x="424" y="1345">TYSND1</text></g>
<g id="n-UNC45A"><circle class="u" cx="428" cy="1433" r="15"/><text x="428" y="1437">UNC45A</text></g>
<g id="n-PLAA"><circle class="n" cx="408" cy="1488" r="15"/><text x="408" y="1492">PLAA</text></g>
<g id="n-FAM96B"><circle class="n" cx="437" cy="1537" r="15"/><text x="437" y="1541">FAM96B</text></g>
<g id="n-HEATR1"><circle class="n" cx="471" cy="1582" r="15"/><text x="471" y="1586">HEATR1</text></g>
<g id="n-DSP"><circle class="n" cx="421" cy="1599" r="15"/><text x="421" y="1603">DSP</text></g>
<g id="n-WDR61"><circle class="u" cx="525" cy="1601" r="15"/><text x="525" y="1605">WDR61</text></g>
<g id="n-RANBP6"><circle class="n" cx="574" cy="1610" r="15"/><text x="574" y="1614">RANBP6</text></g>
<g id="n-SLC30A7"><circle class="n" cx="484" cy="1637" r="15"/><text x="484" y="1641">SLC30A7</text></g>
<g id="n-CIAO1"><circle class="n" cx="546" cy="1652" r="15"/><text x="546" y="1656">CIAO1</text></g>
<g id="n-UBA1"><circle class="L" cx="624" cy="1676" r="23"/><circle class="d" cx="624" cy="1676" r="15"/><text x="624" y="1680">UBA1</text></g>
<g id="n-IPO4"><circle class="n" cx="658" cy="1399" r="15"/><text x="658" y="1403">IPO4</text></g>
<g id="n-CKMT1A"><circle class="u" cx="709" cy="1428" r="15"/><text x="709" y="1432">CKMT1A</text></g>
<g id="n-HDDC2"><circle class="n" cx="687" cy="1468" r="15"/><text x="687" y="1472">HDDC2</text></g>
<g id="n-PLOD1"><circle class="n" cx="731" cy="1511" r="15"/><text x="731" y="1515">PLOD1</text></g>
<g id="n-CAND2"><circle class="n" cx="689" cy="1528" r="15"/><text x="689" y="1532">CAND2</text></g>
<g id="n-PLOD2"><circle class="u" cx="709" cy="1574" r="15"/><text x="709" y="1578">PLOD2</text></g>
<g id="n-YWHAE"><circle class="n" cx="690" cy="1616" r="15"/><text x="690" y="1620">YWHAE</text></g>
<g id="n-YWHAB"><circle class="n" cx="749" cy="1639" r="15"/><text x="749" y="1643">YWHAB</text></g>
<g id="n-1433Z"><circle class="u" cx="658" cy="1651" r="15"/><text x="658" y="1655">1433Z</text></g>
<g id="n-YWHAG"><circle class="n" cx="664" cy="1713" r="15"/><text x="664" y="1717">YWHAG</text></g>
<g id="n-KIAA1429"><circle class="L" cx="244" cy="1523" r="23"/><circle class="d" cx="244" cy="1523" r="15"/><text x="244" y="1527">KIAA1429</text></g>
<g id="n-SLC9A3R1"><circle class="n" cx="318" cy="1566" r="15"/><text x="318" y="1570">SLC9A3R1</text></g>
<g id="n-AFF1"><circle class="E" cx="731" cy="441" r="23"/><circle class="d" cx="731" cy="441" r="15"/><text x="731" y="445">AFF1</text></g>
<g id="n-AFF4"><circle class="n" cx="694" cy="465" r="15"/><text x="694" y="469">AFF4</text></g>
<g id="n-CDK9"><circle class="E" cx="792" cy="462" r="23"/><circle class="d" cx="792" cy="462" r="15"/><text x="792" y="466">CDK9</text></g>
<g id="n-MEPCE"><circle class="E" cx="844" cy="492" r="23"/><circle class="r" cx="844" cy="492" r="15"/><text x="844" y="496">MEPCE</text></g>
<g id="n-CCNT1"><circle class="E" cx="766" cy="509" r="23"/><circle class="d" cx="766" cy="509" r="15"/><text x="766" y="513">CCNT1</text></g>
<g id="n-LARP7"><circle class="E" cx="805" cy="531" r="23"/><circle class="r" cx="805" cy="531" r="15"/><text x="805" y="535">LARP7</text></g>
<g id="n-MLLT1"><circle class="u" cx="688" cy="537" r="15"/><text x="688" y="541">MLLT1</text></g>
<g id="n-AHCYL2"><circle class="n" cx="857" cy="554" r="15"/><text x="857" y="558">AHCYL2</text></g>
<g id="n-DCAF16"><circle class="n" cx="656" cy="571" r="15"/><text x="656" y="575">DCAF16</text></g>
<g id="n-NPM3"><circle class="n" cx="877" cy="594" r="15"/><text x="877" y="598">NPM3</text></g>
<g id="n-USP11"><circle class="E" cx="642" cy="608" r="23"/><circle class="d" cx="642" cy="608" r="15"/><text x="642" y="612">USP11</text></g>
<g id="n-FBN2"><circle class="u" cx="884" cy="639" r="15"/><text x="884" y="643">FBN2</text></g>
<g id="n-NAP1L4"><circle class="n" cx="638" cy="655" r="15"/><text x="638" y="659">NAP1L4</text></g>
<g id="n-SIRT1"><circle class="n" cx="640" cy="697" r="15"/><text x="640" y="701">SIRT1</text></g>
<g id="n-HNRNPH3"><circle class="E" cx="883" cy="695" r="23"/><circle class="d" cx="883" cy="695" r="15"/><text x="883" y="699">HNRNPH3</text></g>
<g id="n-ZNF579"><circle class="u" cx="651" cy="747" r="15"/><text x="651" y="751">ZNF579</text></g>
<g id="n-UBE2O"><circle class="n" cx="872" cy="750" r="15"/><text x="872" y="754">UBE2O</text></g>
<g id="n-FBXO3"><circle class="n" cx="679" cy="792" r="15"/><text x="679" y="796">FBXO3</text></g>
<g id="n-SRRM2"><circle class="n" cx="849" cy="784" r="15"/><text x="849" y="788">SRRM2</text></g>
<g id="n-AHCYL1"><circle class="n" cx="709" cy="820" r="15"/><text x="709" y="824">AHCYL1</text></g>
<g id="n-PPM1G"><circle class="n" cx="816" cy="812" r="15"/><text x="816" y="816">PPM1G</text></g>
<g id="n-ZFP91"><circle class="n" cx="737" cy="843" r="15"/><text x="737" y="847">ZFP91</text></g>
<g id="n-FAM98A"><circle class="u" cx="781" cy="838" r="15"/><text x="781" y="842">FAM98A</text></g>
<g id="n-NOLC1"><circle class="u" cx="1075" cy="38" r="15"/><text x="1075" y="42">NOLC1</text></g>
<g id="n-NARS2"><circle class="n" cx="1117" cy="28" r="15"/><text x="1117" y="32">NARS2</text></g>
<g id="n-TARS"><circle class="n" cx="1160" cy="33" r="15"/><text x="1160" y="37">TARS</text></g>
<g id="n-HARS2"><circle class="u" cx="1195" cy="57" r="15"/><text x="1195" y="61">HARS2</text></g>
<g id="n-SDCCAG8"><circle class="E" cx="1229" cy="81" r="23"/><circle class="r" cx="1229" cy="81" r="15"/><text x="1229" y="85">SDCCAG8</text></g>
<g id="n-SDCBP"><circle class="n" cx="1225" cy="124" r="15"/><text x="1225" y="128">SDCBP</text></g>
<g id="n-KARS"><circle class="n" cx="951" cy="146" r="15"/><text x="951" y="150">KARS</text></g>
<g id="n-MARS"><circle class="n" cx="1009" cy="137" r="15"/><text x="1009" y="141">MARS</text></g>
<g id="n-RARS"><circle class="E" cx="901" cy="189" r="23"/><circle class="r" cx="901" cy="189" r="15"/><text x="901" y="193">RARS</text></g>
<g id="n-QARS"><circle class="n" cx="878" cy="243" r="15"/><text x="878" y="247">QARS</text></g>
<g id="n-DARS"><circle class="u" cx="1103" cy="237" r="15"/><text x="1103" y="241">DARS</text></g>
<g id="n-OLA1"><circle class="n" cx="1229" cy="199" r="15"/><text x="1229" y="203">OLA1</text></g>
<g id="n-SEPSECS"><circle class="n" cx="1217" cy="257" r="15"/><text x="1217" y="261">SEPSECS</text></g>
<g id="n-EPRS"><circle class="u" cx="1089" cy="290" r="15"/><text x="1089" y="294">EPRS</text></g>
<g id="n-EEF1E1"><circle class="n" cx="878" cy="308" r="15"/><text x="878" y="312">EEF1E1</text></g>
<g id="n-IARS"><circle class="n" cx="1062" cy="344" r="15"/><text x="1062" y="348">IARS</text></g>
<g id="n-AIMP2"><circle class="n" cx="909" cy="352" r="15"/><text x="909" y="356">AIMP2</text></g>
<g id="n-AIMP1"><circle class="n" cx="959" cy="379" r="15"/><text x="959" y="383">AIMP1</text></g>
<g id="n-LARS"><circle class="n" cx="1013" cy="375" r="15"/><text x="1013" y="379">LARS</text></g>
<g id="n-STRAP"><circle class="E" cx="1590" cy="22" r="23"/><circle class="d" cx="1590" cy="22" r="15"/><text x="1590" y="26">STRAP</text></g>
<g id="n-LRRC47"><circle class="u" cx="1646" cy="22" r="15"/><text x="1646" y="26">LRRC47</text></g>
<g id="n-RNH1"><circle class="u" cx="1686" cy="29" r="15"/><text x="1686" y="33">RNH1</text></g>
<g id="n-THUMPD1"><circle class="n" cx="1723" cy="50" r="15"/><text x="1723" y="54">THUMPD1</text></g>
<g id="n-PPP1R12A"><circle class="n" cx="1754" cy="89" r="15"/><text x="1754" y="93">PPP1R12A</text></g>
<g id="n-YTHDF3"><circle class="n" cx="1766" cy="131" r="15"/><text x="1766" y="135">YTHDF3</text></g>
<g id="n-PRMT1"><circle class="n" cx="1487" cy="156" r="15"/><text x="1487" y="160">PRMT1</text></g>
<g id="n-NOL12"><circle class="n" cx="1765" cy="175" r="15"/><text x="1765" y="179">NOL12</text></g>
<g id="n-CSDE1"><circle class="E" cx="1745" cy="218" r="23"/><circle class="d" cx="1745" cy="218" r="15"/><text x="1745" y="222">CSDE1</text></g>
<g id="n-DDX49"><circle class="u" cx="1469" cy="243" r="15"/><text x="1469" y="247">DDX49</text></g>
<g id="n-CTNNA3"><circle class="u" cx="1711" cy="250" r="15"/><text x="1711" y="254">CTNNA3</text></g>
<g id="n-NHP2L1"><circle class="E" cx="1672" cy="261" r="23"/><circle class="d" cx="1672" cy="261" r="15"/><text x="1672" y="265">NHP2L1</text></g>
<g id="n-RBM17"><circle class="E" cx="1299" cy="298" r="23"/><circle class="r" cx="1299" cy="298" r="15"/><text x="1299" y="302">RBM17</text></g>
<g id="n-EIF2AK2"><circle class="E" cx="1446" cy="296" r="23"/><circle class="r" cx="1446" cy="296" r="15"/><text x="1446" y="300">EIF2AK2</text></g>
<g id="n-THRAP3"><circle class="n" cx="1344" cy="328" r="15"/><text x="1344" y="332">THRAP3</text></g>
<g id="n-IVNS1ABP"><circle class="n" cx="1398" cy="331" r="15"/><text x="1398" y="335">IVNS1ABP</text></g>
<g id="n-MRPL11"><circle class="n" cx="1626" cy="326" r="15"/><text x="1626" y="330">MRPL11</text></g>
<g id="n-MRPS9"><circle class="n" cx="1675" cy="350" r="15"/><text x="1675" y="354">MRPS9</text></g>
<g id="n-MRPL42"><circle class="u" cx="1588" cy="377" r="15"/><text x="1588" y="381">MRPL42</text></g>
<g id="n-MRPS28"><circle class="u" cx="1641" cy="395" r="15"/><text x="1641" y="399">MRPS28</text></g>
<g id="n-SSBP1"><circle class="n" cx="1711" cy="390" r="15"/><text x="1711" y="394">SSBP1</text></g>
<g id="n-CHCHD1"><circle class="n" cx="1557" cy="412" r="15"/><text x="1557" y="416">CHCHD1</text></g>
<g id="n-MPG"><circle class="n" cx="1741" cy="432" r="15"/><text x="1741" y="436">MPG</text></g>
<g id="n-MITD1"><circle class="n" cx="1562" cy="454" r="15"/><text x="1562" y="458">MITD1</text></g>
<g id="n-SMU1"><circle class="n" cx="1762" cy="479" r="15"/><text x="1762" y="483">SMU1</text></g>
<g id="n-MRS2"><circle class="n" cx="1539" cy="490" r="15"/><text x="1539" y="494">MRS2</text></g>
<g id="n-SPATS2"><circle class="u" cx="1567" cy="519" r="15"/><text x="1567" y="523">SPATS2</text></g>
<g id="n-KIF21B"><circle class="n" cx="1755" cy="526" r="15"/><text x="1755" y="530">KIF21B</text></g>
<g id="n-IK"><circle class="n" cx="1729" cy="565" r="15"/><text x="1729" y="569">IK</text></g>
<g id="n-TMED9"><circle class="E" cx="1567" cy="575" r="23"/><circle class="d" cx="1567" cy="575" r="15"/><text x="1567" y="579">TMED9</text></g>
<g id="n-TMED4"><circle class="n" cx="1622" cy="561" r="15"/><text x="1622" y="565">TMED4</text></g>
<g id="n-GPATCH4"><circle class="n" cx="1688" cy="590" r="15"/><text x="1688" y="594">GPATCH4</text></g>
<g id="n-TMED10"><circle class="n" cx="1642" cy="614" r="15"/><text x="1642" y="618">TMED10</text></g>
<g id="n-NDUFS8"><circle class="n" cx="1112" cy="502" r="15"/><text x="1112" y="506">NDUFS8</text></g>
<g id="n-MATR3"><circle class="E" cx="1150" cy="530" r="23"/><circle class="d" cx="1150" cy="530" r="15"/><text x="1150" y="534">MATR3</text></g>
<g id="n-RBBP7"><circle class="n" cx="1091" cy="538" r="15"/><text x="1091" y="542">RBBP7</text></g>
<g id="n-MTCH2"><circle class="n" cx="1185" cy="556" r="15"/><text x="1185" y="560">MTCH2</text></g>
<g id="n-TULP3"><circle class="n" cx="1128" cy="569" r="15"/><text x="1128" y="573">TULP3</text></g>
<g id="n-HAT1"><circle class="n" cx="1062" cy="574" r="15"/><text x="1062" y="578">HAT1</text></g>
<g id="n-COPS2"><circle class="E" cx="1240" cy="556" r="23"/><circle class="r" cx="1240" cy="556" r="15"/><text x="1240" y="560">COPS2</text></g>
<g id="n-COPS4"><circle class="L" cx="1319" cy="534" r="23"/><circle class="d" cx="1319" cy="534" r="15"/><text x="1319" y="538">COPS4</text></g>
<g id="n-COPS3"><circle class="E" cx="1369" cy="560" r="23"/><circle class="d" cx="1369" cy="560" r="15"/><text x="1369" y="564">COPS3</text></g>
<g id="n-COPS5"><circle class="n" cx="1224" cy="620" r="15"/><text x="1224" y="624">COPS5</text></g>
<g id="n-GPS1"><circle class="L" cx="1392" cy="638" r="23"/><circle class="d" cx="1392" cy="638" r="15"/><text x="1392" y="642">GPS1</text></g>
<g id="n-COPS8"><circle class="L" cx="1266" cy="662" r="23"/><circle class="d" cx="1266" cy="662" r="15"/><text x="1266" y="666">COPS8</text></g>
<g id="n-COPS6"><circle class="n" cx="1344" cy="671" r="15"/><text x="1344" y="675">COPS6</text></g>
<g id="n-GEMIN7"><circle class="n" cx="1477" cy="636" r="15"/><text x="1477" y="640">GEMIN7</text></g>
<g id="n-GEMIN6"><circle class="n" cx="1419" cy="663" r="15"/><text x="1419" y="667">GEMIN6</text></g>
<g id="n-GEMIN4"><circle class="n" cx="1525" cy="655" r="15"/><text x="1525" y="659">GEMIN4</text></g>
<g id="n-GEMIN2"><circle class="n" cx="1541" cy="694" r="15"/><text x="1541" y="698">GEMIN2</text></g>
<g id="n-SMN1"><circle class="u" cx="1519" cy="734" r="15"/><text x="1519" y="738">SMN1</text></g>
<g id="n-DDX20"><circle class="n" cx="1474" cy="762" r="15"/><text x="1474" y="766">DDX20</text></g>
<g id="n-COMT"><circle class="n" cx="1085" cy="630" r="15"/><text x="1085" y="634">COMT</text></g>
<g id="n-ABCD3"><circle class="n" cx="1053" cy="667" r="15"/><text x="1053" y="671">ABCD3</text></g>
<g id="n-CEP170"><circle class="u" cx="1104" cy="673" r="15"/><text x="1104" y="677">CEP170</text></g>
<g id="n-ANKHD1"><circle class="n" cx="1017" cy="710" r="15"/><text x="1017" y="714">ANKHD1</text></g>
<g id="n-ANKRD13A"><circle class="n" cx="1071" cy="708" r="15"/><text x="1071" y="712">ANKRD13A</text></g>
<g id="n-NEDD4L"><circle class="n" cx="1041" cy="741" r="15"/><text x="1041" y="745">NEDD4L</text></g>
<g id="n-CCDC47"><circle class="n" cx="1001" cy="763" r="15"/><text x="1001" y="767">CCDC47</text></g>
<g id="n-AGPS"><circle class="n" cx="1059" cy="793" r="15"/><text x="1059" y="797">AGPS</text></g>
<g id="n-ANKRD17"><circle class="E" cx="992" cy="808" r="23"/><circle class="d" cx="992" cy="808" r="15"/><text x="992" y="812">ANKRD17</text></g>
<g id="n-DPY19L1"><circle class="n" cx="940" cy="833" r="15"/><text x="940" y="837">DPY19L1</text></g>
<g id="n-TMEM160"><circle class="n" cx="981" cy="852" r="15"/><text x="981" y="856">TMEM160</text></g>
<g id="n-ACBD5"><circle class="n" cx="924" cy="888" r="15"/><text x="924" y="892">ACBD5</text></g>
<g id="n-DPY19L3"><circle class="u" cx="996" cy="890" r="15"/><text x="996" y="894">DPY19L3</text></g>
<g id="n-ABCB10"><circle class="n" cx="962" cy="926" r="15"/><text x="962" y="930">ABCB10</text></g>
<g id="n-TMEM11"><circle class="n" cx="1013" cy="930" r="15"/><text x="1013" y="934">TMEM11</text></g>
<g id="n-GOLPH3"><circle class="n" cx="1058" cy="936" r="15"/><text x="1058" y="940">GOLPH3</text></g>
<g id="n-DYNC1H1"><circle class="n" cx="1165" cy="944" r="15"/><text x="1165" y="948">DYNC1H1</text></g>
<g id="n-DYNC1I2"><circle class="n" cx="1118" cy="969" r="15"/><text x="1118" y="973">DYNC1I2</text></g>
<g id="n-UNG"><circle class="n" cx="1045" cy="976" r="15"/><text x="1045" y="980">UNG</text></g>
<g id="n-DYNC1LI1"><circle class="n" cx="1157" cy="1008" r="15"/><text x="1157" y="1012">DYNC1LI1</text></g>
<g id="n-MOGS"><circle class="E" cx="1229" cy="1030" r="23"/><circle class="d" cx="1229" cy="1030" r="15"/><text x="1229" y="1034">MOGS</text></g>
<g id="n-VPRBP"><circle class="E" cx="1425" cy="793" r="23"/><circle class="r" cx="1425" cy="793" r="15"/><text x="1425" y="797">VPRBP</text></g>
<g id="n-CUL4A"><circle class="n" cx="1480" cy="825" r="15"/><text x="1480" y="829">CUL4A</text></g>
<g id="n-DCAF8"><circle class="n" cx="1388" cy="832" r="15"/><text x="1388" y="836">DCAF8</text></g>
<g id="n-DCAF11"><circle class="n" cx="1487" cy="890" r="15"/><text x="1487" y="894">DCAF11</text></g>
<g id="n-DDB1"><circle class="E" cx="1379" cy="903" r="23"/><circle class="r" cx="1379" cy="903" r="15"/><text x="1379" y="907">DDB1</text></g>
<g id="n-DDA1"><circle class="n" cx="1446" cy="923" r="15"/><text x="1446" y="927">DDA1</text></g>
<g id="n-TCEB1"><circle class="L" cx="1610" cy="792" r="23"/><circle class="d" cx="1610" cy="792" r="15"/><text x="1610" y="796">TCEB1</text></g>
<g id="n-RNF7"><circle class="n" cx="1647" cy="814" r="15"/><text x="1647" y="818">RNF7</text></g>
<g id="n-CBFB"><circle class="L" cx="1700" cy="814" r="23"/><circle class="d" cx="1700" cy="814" r="15"/><text x="1700" y="818">CBFB</text></g>
<g id="n-CUL2"><circle class="E" cx="1532" cy="835" r="23"/><circle class="r" cx="1532" cy="835" r="15"/><text x="1532" y="839">CUL2</text></g>
<g id="n-TCEB2"><circle class="L" cx="1577" cy="837" r="23"/><circle class="d" cx="1577" cy="837" r="15"/><text x="1577" y="841">TCEB2</text></g>
<g id="n-CUL5"><circle class="u" cx="1614" cy="854" r="15"/><text x="1614" y="858">CUL5</text></g>
<g id="n-STUB1"><circle class="u" cx="1719" cy="867" r="15"/><text x="1719" y="871">STUB1</text></g>
<g id="n-DNAJC7"><circle class="n" cx="1764" cy="867" r="15"/><text x="1764" y="871">DNAJC7</text></g>
<g id="n-HDAC3"><circle class="L" cx="1760" cy="914" r="23"/><circle class="r" cx="1760" cy="914" r="15"/><text x="1760" y="918">HDAC3</text></g>
<g id="n-TBL1XR1"><circle class="n" cx="1816" cy="925" r="15"/><text x="1816" y="929">TBL1XR1</text></g>
<g id="n-DNAJB2"><circle class="u" cx="1548" cy="955" r="15"/><text x="1548" y="959">DNAJB2</text></g>
<g id="n-NCOR1"><circle class="L" cx="1820" cy="984" r="23"/><circle class="r" cx="1820" cy="984" r="15"/><text x="1820" y="988">NCOR1</text></g>
<g id="n-HUWE1"><circle class="E" cx="1512" cy="998" r="23"/><circle class="r" cx="1512" cy="998" r="15"/><text x="1512" y="1002">HUWE1</text></g>
<g id="n-UBL4A"><circle class="u" cx="1573" cy="1011" r="15"/><text x="1573" y="1015">UBL4A</text></g>
<g id="n-GPS2"><circle class="n" cx="1771" cy="1007" r="15"/><text x="1771" y="1011">GPS2</text></g>
<g id="n-BAG6"><circle class="u" cx="1539" cy="1060" r="15"/><text x="1539" y="1064">BAG6</text></g>
<g id="n-UBR2"><circle class="n" cx="1761" cy="1054" r="15"/><text x="1761" y="1058">UBR2</text></g>
<g id="n-AMBRA1"><circle class="E" cx="1600" cy="1095" r="23"/><circle class="r" cx="1600" cy="1095" r="15"/><text x="1600" y="1099">AMBRA1</text></g>
<g id="n-SQSTM1"><circle class="n" cx="1647" cy="1085" r="15"/><text x="1647" y="1089">SQSTM1</text></g>
<g id="n-MAPK6"><circle class="u" cx="1699" cy="1090" r="15"/><text x="1699" y="1094">MAPK6</text></g>
<g id="n-AKAP8L"><circle class="n" cx="1747" cy="1096" r="15"/><text x="1747" y="1100">AKAP8L</text></g>
<g id="n-MAGED1"><circle class="n" cx="1673" cy="1123" r="15"/><text x="1673" y="1127">MAGED1</text></g>
<g id="n-PSME3"><circle class="n" cx="1461" cy="1161" r="15"/><text x="1461" y="1165">PSME3</text></g>
<g id="n-PSD11"><circle class="u" cx="1405" cy="1175" r="15"/><text x="1405" y="1179">PSD11</text></g>
<g id="n-PSMD7"><circle class="E" cx="1411" cy="1236" r="23"/><circle class="d" cx="1411" cy="1236" r="15"/><text x="1411" y="1240">PSMD7</text></g>
<g id="n-PSMA1"><circle class="E" cx="1499" cy="1224" r="23"/><circle class="d" cx="1499" cy="1224" r="15"/><text x="1499" y="1228">PSMA1</text></g>
<g id="n-PSMB6"><circle class="n" cx="1472" cy="1264" r="15"/><text x="1472" y="1268">PSMB6</text></g>
<g id="n-NMT1"><circle class="u" cx="1666" cy="1206" r="15"/><text x="1666" y="1210">NMT1</text></g>
<g id="n-ACOT8"><circle class="n" cx="1739" cy="1207" r="15"/><text x="1739" y="1211">ACOT8</text></g>
<g id="n-CDKN2A"><circle class="u" cx="1614" cy="1258" r="15"/><text x="1614" y="1262">CDKN2A</text></g>
<g id="n-MTHFD2"><circle class="n" cx="1788" cy="1254" r="15"/><text x="1788" y="1258">MTHFD2</text></g>
<g id="n-SDHA"><circle class="u" cx="1790" cy="1320" r="15"/><text x="1790" y="1324">SDHA</text></g>
<g id="n-EXOC4"><circle class="n" cx="1623" cy="1342" r="15"/><text x="1623" y="1346">EXOC4</text></g>
<g id="n-MTCH1"><circle class="n" cx="1761" cy="1371" r="15"/><text x="1761" y="1375">MTCH1</text></g>
<g id="n-ERGIC1"><circle class="n" cx="1705" cy="1378" r="15"/><text x="1705" y="1382">ERGIC1</text></g>
<g id="n-ERGIC3"><circle class="L" cx="1707" cy="1451" r="23"/><circle class="d" cx="1707" cy="1451" r="15"/><text x="1707" y="1455">ERGIC3</text></g>
<g id="n-HYOU1"><circle class="E" cx="895" cy="1116" r="23"/><circle class="d" cx="895" cy="1116" r="15"/><text x="895" y="1120">HYOU1</text></g>
<g id="n-CASC3"><circle class="n" cx="953" cy="1096" r="15"/><text x="953" y="1100">CASC3</text></g>
<g id="n-G3BP2"><circle class="n" cx="1008" cy="1099" r="15"/><text x="1008" y="1103">G3BP2</text></g>
<g id="n-TAB2"><circle class="n" cx="990" cy="1138" r="15"/><text x="990" y="1142">TAB2</text></g>
<g id="n-TMEM43"><circle class="n" cx="1044" cy="1138" r="15"/><text x="1044" y="1142">TMEM43</text></g>
<g id="n-RNF126"><circle class="L" cx="946" cy="1155" r="23"/><circle class="d" cx="946" cy="1155" r="15"/><text x="946" y="1159">RNF126</text></g>
<g id="n-TOR1AIP2"><circle class="n" cx="1077" cy="1163" r="15"/><text x="1077" y="1167">TOR1AIP2</text></g>
<g id="n-LSM12"><circle class="n" cx="1206" cy="1136" r="15"/><text x="1206" y="1140">LSM12</text></g>
<g id="n-SDF4"><circle class="n" cx="846" cy="1170" r="15"/><text x="846" y="1174">SDF4</text></g>
<g id="n-CALU"><circle class="n" cx="902" cy="1178" r="15"/><text x="902" y="1182">CALU</text></g>
<g id="n-RCN2"><circle class="n" cx="1214" cy="1184" r="15"/><text x="1214" y="1188">RCN2</text></g>
<g id="n-TOR1A"><circle class="n" cx="1104" cy="1203" r="15"/><text x="1104" y="1207">TOR1A</text></g>
<g id="n-HSPA13"><circle class="n" cx="811" cy="1227" r="15"/><text x="811" y="1231">HSPA13</text></g>
<g id="n-SUMF2"><circle class="n" cx="869" cy="1224" r="15"/><text x="869" y="1228">SUMF2</text></g>
<g id="n-EVL"><circle class="n" cx="1233" cy="1222" r="15"/><text x="1233" y="1226">EVL</text></g>
<g id="n-P4HA2"><circle class="n" cx="1260" cy="1171" r="15"/><text x="1260" y="1175">P4HA2</text></g>
<g id="n-HIST1H3I"><circle class="E" cx="1289" cy="1214" r="23"/><circle class="d" cx="1289" cy="1214" r="15"/><text x="1289" y="1218">HIST1H3I</text></g>
<g id="n-SERPINH1"><circle class="n" cx="789" cy="1278" r="15"/><text x="789" y="1282">SERPINH1</text></g>
<g id="n-F133B"><circle class="u" cx="844" cy="1275" r="15"/><text x="844" y="1279">F133B</text></g>
<g id="n-PDIA5"><circle class="n" cx="835" cy="1319" r="15"/><text x="835" y="1323">PDIA5</text></g>
<g id="n-DNAJC3"><circle class="n" cx="786" cy="1327" r="15"/><text x="786" y="1331">DNAJC3</text></g>
<g id="n-COLGALT1"><circle class="u" cx="831" cy="1359" r="15"/><text x="831" y="1363">COLGALT1</text></g>
<g id="n-HSP76"><circle class="u" cx="784" cy="1391" r="15"/><text x="784" y="1395">HSP76</text></g>
<g id="n-EDEM3"><circle class="n" cx="837" cy="1411" r="15"/><text x="837" y="1415">EDEM3</text></g>
<g id="n-MCRIP2"><circle class="n" cx="795" cy="1450" r="15"/><text x="795" y="1454">MCRIP2</text></g>
<g id="n-HSP77"><circle class="u" cx="851" cy="1460" r="15"/><text x="851" y="1464">HSP77</text></g>
<g id="n-ERP44"><circle class="E" cx="815" cy="1503" r="23"/><circle class="d" cx="815" cy="1503" r="15"/><text x="815" y="1507">ERP44</text></g>
<g id="n-DDX6"><circle class="E" cx="869" cy="1497" r="23"/><circle class="d" cx="869" cy="1497" r="15"/><text x="869" y="1501">DDX6</text></g>
<g id="n-G3BP1"><circle class="E" cx="898" cy="1531" r="23"/><circle class="r" cx="898" cy="1531" r="15"/><text x="898" y="1535">G3BP1</text></g>
<g id="n-HSP90B1"><circle class="n" cx="844" cy="1542" r="15"/><text x="844" y="1546">HSP90B1</text></g>
<g id="n-MAGT1"><circle class="n" cx="1397" cy="1333" r="15"/><text x="1397" y="1337">MAGT1</text></g>
<g id="n-CHAF1B"><circle class="E" cx="1408" cy="1370" r="23"/><circle class="d" cx="1408" cy="1370" r="15"/><text x="1408" y="1374">CHAF1B</text></g>
<g id="n-RPN1"><circle class="n" cx="1454" cy="1372" r="15"/><text x="1454" y="1376">RPN1</text></g>
<g id="n-DNAJB11"><circle class="n" cx="1387" cy="1393" r="15"/><text x="1387" y="1397">DNAJB11</text></g>
<g id="n-SEH1L"><circle class="n" cx="1367" cy="1418" r="15"/><text x="1367" y="1422">SEH1L</text></g>
<g id="n-HSPH1"><circle class="n" cx="1344" cy="1442" r="15"/><text x="1344" y="1446">HSPH1</text></g>
<g id="n-LDLR"><circle class="L" cx="1322" cy="1465" r="23"/><circle class="r" cx="1322" cy="1465" r="15"/><text x="1322" y="1469">LDLR</text></g>
<g id="n-HLA-A"><circle class="u" cx="1268" cy="1489" r="15"/><text x="1268" y="1493">HLA-A</text></g>
<g id="n-KIR3DL1"><circle class="u" cx="1331" cy="1512" r="15"/><text x="1331" y="1516">KIR3DL1</text></g>
<g id="n-SDF2L1"><circle class="n" cx="1264" cy="1518" r="15"/><text x="1264" y="1522">SDF2L1</text></g>
<g id="n-CLGN"><circle class="n" cx="1236" cy="1544" r="15"/><text x="1236" y="1548">CLGN</text></g>
<g id="n-GANAB"><circle class="n" cx="1220" cy="1570" r="15"/><text x="1220" y="1574">GANAB</text></g>
<g id="n-SDF2"><circle class="n" cx="1200" cy="1598" r="15"/><text x="1200" y="1602">SDF2</text></g>
<g id="n-ITGA4"><circle class="E" cx="1114" cy="1611" r="23"/><circle class="r" cx="1114" cy="1611" r="15"/><text x="1114" y="1615">ITGA4</text></g>
<g id="n-PON2"><circle class="n" cx="1179" cy="1622" r="15"/><text x="1179" y="1626">PON2</text></g>
<g id="n-ITGB2"><circle class="n" cx="1163" cy="1652" r="15"/><text x="1163" y="1656">ITGB2</text></g>
<g id="n-ITGAL"><circle class="L" cx="1213" cy="1680" r="23"/><circle class="d" cx="1213" cy="1680" r="15"/><text x="1213" y="1684">ITGAL</text></g>
<g id="n-CALR"><circle class="n" cx="1093" cy="1733" r="15"/><text x="1093" y="1737">CALR</text></g>
<g id="n-EFEMP1"><circle class="n" cx="1047" cy="1760" r="15"/><text x="1047" y="1764">EFEMP1</text></g>
<g id="n-CANX"><circle class="n" cx="1142" cy="1770" r="15"/><text x="1142" y="1774">CANX</text></g>
<g id="n-PDIA3"><circle class="u" cx="1062" cy="1821" r="15"/><text x="1062" y="1825">PDIA3</text></g>
<g id="n-SEC61A1"><circle class="E" cx="997" cy="1878" r="23"/><circle class="d" cx="997" cy="1878" r="15"/><text x="997" y="1882">SEC61A1</text></g>
<g id="n-SUN1"><circle class="n" cx="1549" cy="1441" r="15"/><text x="1549" y="1445">SUN1</text></g>
<g id="n-OS9"><circle class="n" cx="1633" cy="1442" r="15"/><text x="1633" y="1446">OS9</text></g>
<g id="n-C20orf24"><circle class="n" cx="1599" cy="1464" r="15"/><text x="1599" y="1468">C20orf24</text></g>
<g id="n-SSR4"><circle class="n" cx="1561" cy="1479" r="15"/><text x="1561" y="1483">SSR4</text></g>
<g id="n-ERGIC2"><circle class="n" cx="1643" cy="1479" r="15"/><text x="1643" y="1483">ERGIC2</text></g>
<g id="n-HM13"><circle class="n" cx="1739" cy="1514" r="15"/><text x="1739" y="1518">HM13</text></g>
<g id="n-ACBD3"><circle class="n" cx="1663" cy="1550" r="15"/><text x="1663" y="1554">ACBD3</text></g>
<g id="n-CAPN1"><circle class="u" cx="1715" cy="1558" r="15"/><text x="1715" y="1562">CAPN1</text></g>
<g id="n-P4HB"><circle class="E" cx="1774" cy="1569" r="23"/><circle class="r" cx="1774" cy="1569" r="15"/><text x="1774" y="1573">P4HB</text></g>
<g id="n-AP1M1"><circle class="n" cx="1684" cy="1596" r="15"/><text x="1684" y="1600">AP1M1</text></g>
<g id="n-RNF5"><circle class="n" cx="1720" cy="1615" r="15"/><text x="1720" y="1619">RNF5</text></g>
<g id="n-DHCR24"><circle class="n" cx="1758" cy="1623" r="15"/><text x="1758" y="1627">DHCR24</text></g>
<g id="n-DSC3"><circle class="n" cx="1801" cy="1638" r="15"/><text x="1801" y="1642">DSC3</text></g>
<g id="n-TCB"><circle class="u" cx="1723" cy="1673" r="15"/><text x="1723" y="1677">TCB</text></g>
<g id="n-TVB1"><circle class="u" cx="1763" cy="1692" r="15"/><text x="1763" y="1696">TVB1</text></g>
<g id="n-FUT8"><circle class="n" cx="1802" cy="1711" r="15"/><text x="1802" y="1715">FUT8</text></g>
<g id="n-CHI3L2"><circle class="n" cx="1724" cy="1725" r="15"/><text x="1724" y="1729">CHI3L2</text></g>
<g id="n-MESDC2"><circle class="n" cx="1746" cy="1757" r="15"/><text x="1746" y="1761">MESDC2</text></g>
<g id="n-CLN6"><circle class="n" cx="1778" cy="1791" r="15"/><text x="1778" y="1795">CLN6</text></g>
<g id="n-CTSD"><circle class="n" cx="1729" cy="1797" r="15"/><text x="1729" y="1801">CTSD</text></g>
<g id="n-KIR3DL2"><circle class="u" cx="1712" cy="1831" r="15"/><text x="1712" y="1835">KIR3DL2</text></g>
<g id="n-ITM2B"><circle class="n" cx="1769" cy="1834" r="15"/><text x="1769" y="1838">ITM2B</text></g>
<g id="n-ATP2A3"><circle class="n" cx="1686" cy="1887" r="15"/><text x="1686" y="1891">ATP2A3</text></g>
<g id="n-ATP2A2"><circle class="E" cx="1740" cy="1899" r="23"/><circle class="r" cx="1740" cy="1899" r="15"/><text x="1740" y="1903">ATP2A2</text></g>
<g id="n-TXNDC5"><circle class="n" cx="909" cy="1953" r="15"/><text x="909" y="1957">TXNDC5</text></g>
<g id="n-PRKCSH"><circle class="n" cx="946" cy="1936" r="15"/><text x="946" y="1940">PRKCSH</text></g>
<g id="n-SEC62"><circle class="n" cx="1021" cy="1940" r="15"/><text x="1021" y="1944">SEC62</text></g>
<g id="n-SEL1L"><circle class="n" cx="1138" cy="1924" r="15"/><text x="1138" y="1928">SEL1L</text></g>
<g id="n-VCP"><circle class="n" cx="1098" cy="1961" r="15"/><text x="1098" y="1965">VCP</text></g>
<g id="n-NGLY1"><circle class="n" cx="1152" cy="1969" r="15"/><text x="1152" y="1973">NGLY1</text></g>
<g id="n-COX6B1"><circle class="n" cx="1225" cy="1951" r="15"/><text x="1225" y="1955">COX6B1</text></g>
<g id="n-COX4I1"><circle class="n" cx="1254" cy="1914" r="15"/><text x="1254" y="1918">COX4I1</text></g>
<g id="n-ERLEC1"><circle class="u" cx="1297" cy="1909" r="15"/><text x="1297" y="1913">ERLEC1</text></g>
<g id="n-VDAC1"><circle class="E" cx="1330" cy="1929" r="23"/><circle class="d" cx="1330" cy="1929" r="15"/><text x="1330" y="1933">VDAC1</text></g>
<g id="n-COX5A"><circle class="u" cx="1275" cy="1981" r="15"/><text x="1275" y="1985">COX5A</text></g>
<g id="n-LMAN1"><circle class="n" cx="1362" cy="1957" r="15"/><text x="1362" y="1961">LMAN1</text></g>
<g id="n-CKAP4"><circle class="n" cx="1394" cy="1940" r="15"/><text x="1394" y="1944">CKAP4</text></g>
<g id="n-VDAC2"><circle class="n" cx="1419" cy="1969" r="15"/><text x="1419" y="1973">VDAC2</text></g>
<g id="n-TMEM38B"><circle class="n" cx="1460" cy="1952" r="15"/><text x="1460" y="1956">TMEM38B</text></g>
<g id="n-PGRMC1"><circle class="n" cx="1489" cy="1977" r="15"/><text x="1489" y="1981">PGRMC1</text></g>
<g id="n-UGGT1"><circle class="n" cx="1528" cy="1966" r="15"/><text x="1528" y="1970">UGGT1</text></g>
<g id="n-LMAN2"><circle class="n" cx="1564" cy="1980" r="15"/><text x="1564" y="1984">LMAN2</text></g>
<g id="n-ATL3"><circle class="n" cx="1594" cy="1997" r="15"/><text x="1594" y="2001">ATL3</text></g>
<g id="n-FLOT1"><circle class="n" cx="1633" cy="1990" r="15"/><text x="1633" y="1994">FLOT1</text></g>
<g id="n-RHOC"><circle class="n" cx="1666" cy="2002" r="15"/><text x="1666" y="2006">RHOC</text></g>
<g id="n-PHB"><circle class="E" cx="1701" cy="2010" r="23"/><circle class="d" cx="1701" cy="2010" r="15"/><text x="1701" y="2014">PHB</text></g>
<g id="n-APP"><circle class="n" cx="1736" cy="1990" r="15"/><text x="1736" y="1994">APP</text></g>
<g id="n-TOMM40"><circle class="E" cx="1725" cy="2052" r="23"/><circle class="d" cx="1725" cy="2052" r="15"/><text x="1725" y="2056">TOMM40</text></g>
<g id="n-PHB2"><circle class="E" cx="1635" cy="2066" r="23"/><circle class="d" cx="1635" cy="2066" r="15"/><text x="1635" y="2070">PHB2</text></g>
<g id="n-SPCS2"><circle class="n" cx="1209" cy="2167" r="15"/><text x="1209" y="2171">SPCS2</text></g>
<g id="n-SPCS3"><circle class="L" cx="1174" cy="2209" r="23"/><circle class="d" cx="1174" cy="2209" r="15"/><text x="1174" y="2213">SPCS3</text></g>
<g id="n-PIP4K2A"><circle class="n" cx="1225" cy="2226" r="15"/><text x="1225" y="2230">PIP4K2A</text></g>
<g id="n-SPAG5"><circle class="n" cx="1187" cy="2271" r="15"/><text x="1187" y="2275">SPAG5</text></g>
<g id="n-GLG1"><circle class="E" cx="1252" cy="2267" r="23"/><circle class="d" cx="1252" cy="2267" r="15"/><text x="1252" y="2271">GLG1</text></g>
<g id="n-MMGT1"><circle class="L" cx="1222" cy="2320" r="23"/><circle class="d" cx="1222" cy="2320" r="15"/><text x="1222" y="2324">MMGT1</text></g>
<g id="n-RER1"><circle class="u" cx="1280" cy="2305" r="15"/><text x="1280" y="2309">RER1</text></g>
<g id="n-HACD3"><circle class="n" cx="1260" cy="2360" r="15"/><text x="1260" y="2364">HACD3</text></g>
<g id="n-PLSCR1"><circle class="n" cx="1314" cy="2328" r="15"/><text x="1314" y="2332">PLSCR1</text></g>
<g id="n-SURF4"><circle class="u" cx="1358" cy="2338" r="15"/><text x="1358" y="2342">SURF4</text></g>
<g id="n-STOML2"><circle class="n" cx="1312" cy="2390" r="15"/><text x="1312" y="2394">STOML2</text></g>
<g id="n-RABGAP1"><circle class="n" cx="1358" cy="2410" r="15"/><text x="1358" y="2414">RABGAP1</text></g>
<g id="n-TIMM8A"><circle class="n" cx="1400" cy="2350" r="15"/><text x="1400" y="2354">TIMM8A</text></g>
<g id="n-ENDOD1"><circle class="n" cx="1453" cy="2345" r="15"/><text x="1453" y="2349">ENDOD1</text></g>
<g id="n-TIMM13"><circle class="E" cx="1428" cy="2415" r="23"/><circle class="d" cx="1428" cy="2415" r="15"/><text x="1428" y="2419">TIMM13</text></g>
<g id="n-BCAP31"><circle class="n" cx="1505" cy="2332" r="15"/><text x="1505" y="2336">BCAP31</text></g>
<g id="n-VDAC3"><circle class="n" cx="1497" cy="2395" r="15"/><text x="1497" y="2399">VDAC3</text></g>
<g id="n-VAPA"><circle class="n" cx="1554" cy="2362" r="15"/><text x="1554" y="2366">VAPA</text></g>
<g id="n-PRDX4"><circle class="n" cx="1545" cy="2302" r="15"/><text x="1545" y="2306">PRDX4</text></g>
<g id="n-FBXO6"><circle class="n" cx="1600" cy="2322" r="15"/><text x="1600" y="2326">FBXO6</text></g>
<g id="n-KIAA2013"><circle class="n" cx="1576" cy="2269" r="15"/><text x="1576" y="2273">KIAA2013</text></g>
<g id="n-TIMM8B"><circle class="n" cx="1630" cy="2274" r="15"/><text x="1630" y="2278">TIMM8B</text></g>
<g id="n-EMC1"><circle class="E" cx="1597" cy="2224" r="23"/><circle class="d" cx="1597" cy="2224" r="15"/><text x="1597" y="2228">EMC1</text></g>
<g id="n-VTI1A"><circle class="n" cx="1652" cy="2210" r="15"/><text x="1652" y="2214">VTI1A</text></g>
<g id="n-NDUFB10"><circle class="E" cx="1613" cy="2177" r="23"/><circle class="r" cx="1613" cy="2177" r="15"/><text x="1613" y="2181">NDUFB10</text></g>
<g id="n-RTN4"><circle class="u" cx="524" cy="1720" r="15"/><text x="524" y="1724">RTN4</text></g>
<g id="n-MSN"><circle class="u" cx="599" cy="1747" r="15"/><text x="599" y="1751">MSN</text></g>
<g id="n-RTN3"><circle class="n" cx="488" cy="1764" r="15"/><text x="488" y="1768">RTN3</text></g>
<g id="n-CNTNAP1"><circle class="E" cx="567" cy="1764" r="23"/><circle class="d" cx="567" cy="1764" r="15"/><text x="567" y="1768">CNTNAP1</text></g>
<g id="n-ICAM2"><circle class="u" cx="652" cy="1766" r="15"/><text x="652" y="1770">ICAM2</text></g>
<g id="n-NCAPD3"><circle class="E" cx="424" cy="1787" r="23"/><circle class="d" cx="424" cy="1787" r="15"/><text x="424" y="1791">NCAPD3</text></g>
<g id="n-CYB5R1"><circle class="n" cx="466" cy="1806" r="15"/><text x="466" y="1810">CYB5R1</text></g>
<g id="n-SGPL1"><circle class="L" cx="693" cy="1811" r="23"/><circle class="d" cx="693" cy="1811" r="15"/><text x="693" y="1815">SGPL1</text></g>
<g id="n-RANBP2"><circle class="L" cx="378" cy="1814" r="23"/><circle class="r" cx="378" cy="1814" r="15"/><text x="378" y="1818">RANBP2</text></g>
<g id="n-CHP1"><circle class="E" cx="607" cy="1823" r="23"/><circle class="d" cx="607" cy="1823" r="15"/><text x="607" y="1827">CHP1</text></g>
<g id="n-CERS2"><circle class="n" cx="654" cy="1839" r="15"/><text x="654" y="1843">CERS2</text></g>
<g id="n-SCAMP3"><circle class="u" cx="737" cy="1844" r="15"/><text x="737" y="1848">SCAMP3</text></g>
<g id="n-PTGES3"><circle class="u" cx="329" cy="1844" r="15"/><text x="329" y="1848">PTGES3</text></g>
<g id="n-XPO5"><circle class="L" cx="423" cy="1846" r="23"/><circle class="d" cx="423" cy="1846" r="15"/><text x="423" y="1850">XPO5</text></g>
<g id="n-TBRG4"><circle class="n" cx="695" cy="1860" r="15"/><text x="695" y="1864">TBRG4</text></g>
<g id="n-XPO4"><circle class="n" cx="384" cy="1871" r="15"/><text x="384" y="1875">XPO4</text></g>
<g id="n-HSD17B12"><circle class="u" cx="295" cy="1882" r="15"/><text x="295" y="1886">HSD17B12</text></g>
<g id="n-DAGLB"><circle class="n" cx="732" cy="1898" r="15"/><text x="732" y="1902">DAGLB</text></g>
<g id="n-IPO9"><circle class="n" cx="348" cy="1902" r="15"/><text x="348" y="1906">IPO9</text></g>
<g id="n-CEP57"><circle class="L" cx="777" cy="1904" r="23"/><circle class="r" cx="777" cy="1904" r="15"/><text x="777" y="1908">CEP57</text></g>
<g id="n-RNF213"><circle class="n" cx="266" cy="1928" r="15"/><text x="266" y="1932">RNF213</text></g>
<g id="n-GIMAP5"><circle class="n" cx="318" cy="1938" r="15"/><text x="318" y="1942">GIMAP5</text></g>
<g id="n-SLC27A4"><circle class="u" cx="766" cy="1959" r="15"/><text x="766" y="1963">SLC27A4</text></g>
<g id="n-ACSL3"><circle class="n" cx="816" cy="1978" r="15"/><text x="816" y="1982">ACSL3</text></g>
<g id="n-TBC1D15"><circle class="n" cx="295" cy="1978" r="15"/><text x="295" y="1982">TBC1D15</text></g>
<g id="n-TMEM55B"><circle class="n" cx="250" cy="1988" r="15"/><text x="250" y="1992">TMEM55B</text></g>
<g id="n-ARFGEF2"><circle class="n" cx="211" cy="1999" r="15"/><text x="211" y="2003">ARFGEF2</text></g>
<g id="n-ATP2B1"><circle class="u" cx="849" cy="2006" r="15"/><text x="849" y="2010">ATP2B1</text></g>
<g id="n-TMEM192"><circle class="u" cx="268" cy="2041" r="15"/><text x="268" y="2045">TMEM192</text></g>
<g id="n-PPP2R5E"><circle class="u" cx="821" cy="2050" r="15"/><text x="821" y="2054">PPP2R5E</text></g>
<g id="n-ARFGEF1"><circle class="u" cx="200" cy="2059" r="15"/><text x="200" y="2063">ARFGEF1</text></g>
<g id="n-PRKDC"><circle class="n" cx="856" cy="2077" r="15"/><text x="856" y="2081">PRKDC</text></g>
<g id="n-ATP5H"><circle class="u" cx="272" cy="2115" r="15"/><text x="272" y="2119">ATP5H</text></g>
<g id="n-PREB"><circle class="L" cx="870" cy="2118" r="23"/><circle class="d" cx="870" cy="2118" r="15"/><text x="870" y="2122">PREB</text></g>
<g id="n-ATAD3A"><circle class="u" cx="910" cy="2142" r="15"/><text x="910" y="2146">ATAD3A</text></g>
<g id="n-EDC4"><circle class="n" cx="836" cy="2150" r="15"/><text x="836" y="2154">EDC4</text></g>
<g id="n-ATP5B"><circle class="u" cx="222" cy="2159" r="15"/><text x="222" y="2163">ATP5B</text></g>
<g id="n-ATAD3B"><circle class="n" cx="888" cy="2181" r="15"/><text x="888" y="2185">ATAD3B</text></g>
<g id="n-ATXN10"><circle class="n" cx="829" cy="2192" r="15"/><text x="829" y="2196">ATXN10</text></g>
<g id="n-ATP5J"><circle class="u" cx="222" cy="2219" r="15"/><text x="222" y="2223">ATP5J</text></g>
<g id="n-RANBP1"><circle class="L" cx="849" cy="2240" r="23"/><circle class="d" cx="849" cy="2240" r="15"/><text x="849" y="2244">RANBP1</text></g>
<g id="n-XPO1"><circle class="n" cx="798" cy="2259" r="15"/><text x="798" y="2263">XPO1</text></g>
<g id="n-SLIRP"><circle class="E" cx="749" cy="2268" r="23"/><circle class="d" cx="749" cy="2268" r="15"/><text x="749" y="2272">SLIRP</text></g>
<g id="n-SKP1"><circle class="E" cx="519" cy="2281" r="23"/><circle class="d" cx="519" cy="2281" r="15"/><text x="519" y="2285">SKP1</text></g>
<g id="n-LRPPRC"><circle class="n" cx="702" cy="2290" r="15"/><text x="702" y="2294">LRPPRC</text></g>
<g id="n-ATP5D"><circle class="n" cx="390" cy="2292" r="15"/><text x="390" y="2296">ATP5D</text></g>
<g id="n-ATP5O"><circle class="n" cx="268" cy="2296" r="15"/><text x="268" y="2300">ATP5O</text></g>
<g id="n-BTRC"><circle class="u" cx="448" cy="2308" r="15"/><text x="448" y="2312">BTRC</text></g>
<g id="n-ATP5F1"><circle class="u" cx="322" cy="2319" r="15"/><text x="322" y="2323">ATP5F1</text></g>
<g id="n-HADHB"><circle class="n" cx="682" cy="2331" r="15"/><text x="682" y="2335">HADHB</text></g>
<g id="n-FBXW11"><circle class="n" cx="575" cy="2333" r="15"/><text x="575" y="2337">FBXW11</text></g>
<g id="n-HADHA"><circle class="n" cx="638" cy="2352" r="15"/><text x="638" y="2356">HADHA</text></g>
<g id="n-NEDD8"><circle class="u" cx="458" cy="2376" r="15"/><text x="458" y="2380">NEDD8</text></g>
<g id="n-CUL1"><circle class="n" cx="546" cy="2391" r="15"/><text x="546" y="2395">CUL1</text></g>
<g id="h-PR"><circle class="h" cx="530" cy="513" r="27"/><text class="hv" x="530" y="522">PR</text></g>
<g id="h-Pol"><circle class="h" cx="463" cy="1045" r="27"/><text class="hv" x="463" y="1054">Pol</text></g>
<g id="h-IN"><circle class="h" cx="543" cy="1464" r="27"/><text class="hv" x="543" y="1473">IN</text></g>
<g id="h-RT"><circle class="h" cx="316" cy="1460" r="27"/><text class="hv" x="316" y="1469">RT</text></g>
<g id="h-Tat"><circle class="h" cx="763" cy="657" r="27"/><text class="hv" x="763" y="666">Tat</text></g>
<g id="h-MA"><circle class="h" cx="1083" cy="163" r="27"/><text class="hv" x="1083" y="172">MA</text></g>
<g id="h-Gag"><circle class="h" cx="1378" cy="241" r="27"/><text class="hv" x="1378" y="250">Gag</text></g>
<g id="h-NC"><circle class="h" cx="1620" cy="139" r="27"/><text class="hv" x="1620" y="148">NC</text></g>
<g id="h-REV"><circle class="h" cx="1663" cy="477" r="27"/><text class="hv" x="1663" y="486">REV</text></g>
<g id="h-Vpr"><circle class="h" cx="1258" cy="801" r="27"/><text class="hv" x="1258" y="810">Vpr</text></g>
<g id="h-Vif"><circle class="h" cx="1672" cy="972" r="27"/><text class="hv" x="1672" y="981">Vif</text></g>
<g id="h-Nef"><circle class="h" cx="1702" cy="1297" r="27"/><text class="hv" x="1702" y="1306">Nef</text></g>
<g id="h-Gp120"><circle class="h" cx="1052" cy="1382" r="27"/><text class="hv" x="1052" y="1391">Gp120</text></g>
<g id="h-Gp160"><circle class="h" cx="1503" cy="1700" r="27"/><text class="hv" x="1503" y="1709">Gp160</text></g>
<g id="h-Gp41"><circle class="h" cx="1418" cy="2162" r="27"/><text class="hv" x="1418" y="2171">Gp41</text></g>
<g id="h-Vpu"><circle class="h" cx="541" cy="2103" r="27"/><text class="hv" x="541" y="2112">Vpu</text></g>
</g>
<g id="legend">
<circle class="h" cx="19" cy="2427" r="18"/>
<text class="lg" x="43" y="2436">HIV protein (16)</text>
<text class="lg" x="5" y="2487">Human protein (435):</text>
<circle class="r" cx="268" cy="2478" r="12"/>
<text class="lg" x="287" y="2487">Restriction factor (23)</text>
<circle class="d" cx="562" cy="2478" r="12"/>
<text class="lg" x="580" y="2487">Dependency factor (62)</text>
<circle class="b" cx="878" cy="2478" r="12"/>
<text class="lg" x="897" y="2487">Both (1)</text>
<circle class="n" cx="268" cy="2520" r="12"/>
<text class="lg" x="287" y="2529">No observable phenotype (269)</text>
<circle class="u" cx="679" cy="2520" r="12"/>
<text class="lg" x="699" y="2529">Undetermined (80)</text>
<circle cx="947" cy="2520" r="10" fill="#fff" stroke="#4db6ad" stroke-width="5"/>
<text class="lg" x="973" y="2529">Early (58)</text>
<circle cx="1119" cy="2520" r="10" fill="#fff" stroke="#a07a62" stroke-width="5"/>
<text class="lg" x="1144" y="2529">Late (28)</text>
<path d="M1592 2452H1642" stroke="#3a62c2" stroke-width="2.5"/>
<text class="lg" x="1652" y="2461">HIV –Hu PPI (497)</text>
<path d="M1592 2485H1642" stroke="#222" stroke-width="2.5"/>
<text class="lg" x="1652" y="2494">Hu–Hu PPI (289)</text>
<path d="M1592 2519H1642" stroke="#3a62c2" stroke-width="2.5" stroke-dasharray="6 5"/>
<text class="lg" x="1652" y="2528">VirusMint (19)</text>
</g>
</svg>
